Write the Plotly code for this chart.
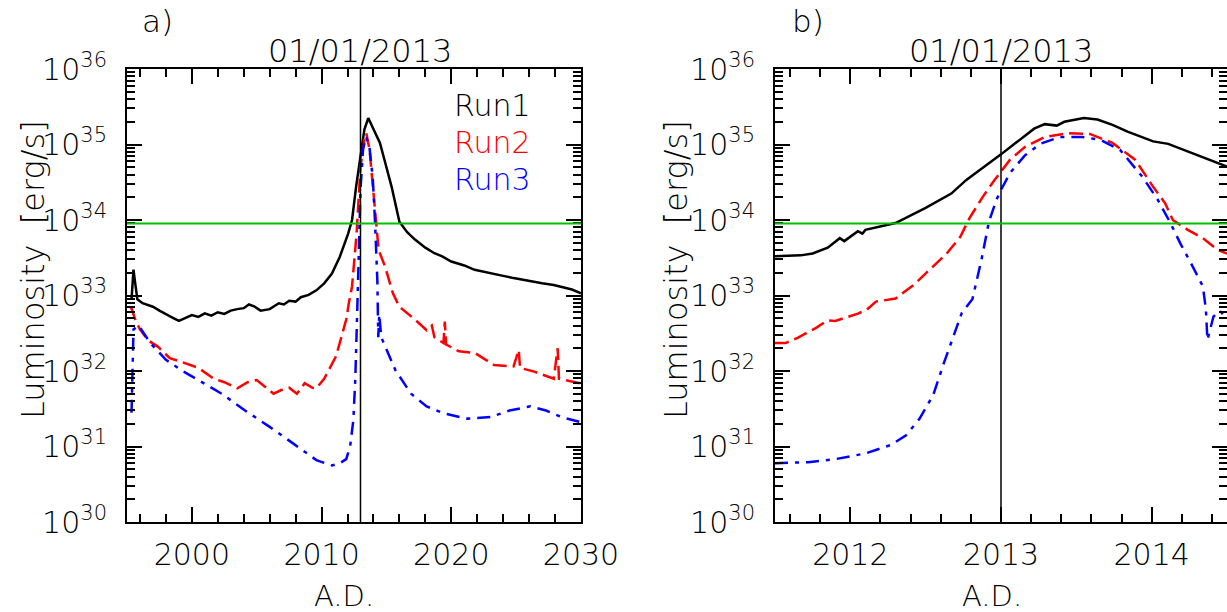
import plotly.graph_objects as go

# ---------------- data ----------------
event_year = 2013.0
event_label = "01/01/2013"
threshold_lum = 9.0e33

# Panel a) : 1995 - 2030
run1_a_year = [1995.35, 1995.5, 1995.6, 1995.8, 1996.2, 1996.6, 1997.0, 1997.5, 1998.0, 1998.5,
               1999.0, 1999.5, 2000.0, 2000.5, 2001.0, 2001.5, 2002.0, 2002.5, 2003.0, 2003.5,
               2004.0, 2004.4, 2004.8, 2005.3, 2006.0, 2006.7, 2007.1, 2007.5, 2008.0, 2008.4,
               2009.0, 2009.6, 2010.2, 2010.8, 2011.4, 2012.05, 2012.35, 2012.66, 2013.0, 2013.3,
               2013.6, 2014.0, 2014.5, 2015.0, 2015.4, 2016.0, 2016.6, 2017.2, 2018.0, 2018.7,
               2019.3, 2020.0, 2021.0, 2021.8, 2023.0, 2024.0, 2024.8, 2026.0, 2027.0, 2027.9,
               2028.7, 2029.3, 2030.0]
run1_a_lum = [8.9e32, 2.2e33, 1.6e33, 8.9e32, 7.9e32, 7.4e32, 7.1e32, 6.3e32, 5.6e32, 5.1e32,
              4.6e32, 5.0e32, 5.5e32, 5.2e32, 5.8e32, 5.4e32, 6.0e32, 5.7e32, 6.3e32, 6.6e32,
              6.8e32, 7.6e32, 7.2e32, 6.3e32, 6.6e32, 7.9e32, 7.6e32, 8.5e32, 8.3e32, 9.5e32,
              1.02e33, 1.17e33, 1.45e33, 1.95e33, 3.24e33, 6.6e33, 1.0e34, 2.75e34, 6.9e34, 1.58e35,
              2.24e35, 1.58e35, 1.05e35, 5.0e34, 2.75e34, 9.5e33, 6.9e33, 5.5e33, 4.3e33, 3.63e33,
              3.3e33, 2.82e33, 2.5e33, 2.19e33, 2.0e33, 1.82e33, 1.70e33, 1.55e33, 1.45e33, 1.38e33,
              1.26e33, 1.2e33, 1.07e33]

run2_a_year = [1995.3, 1995.6, 1996.0, 1996.6, 1997.4, 1998.3, 1999.2, 2000.5, 2001.7, 2002.5,
               2003.5, 2004.3, 2005.0, 2005.7, 2006.3, 2006.9, 2007.5, 2008.1, 2008.7, 2009.3,
               2009.6, 2010.2, 2010.7, 2011.1, 2011.4, 2011.9, 2012.1, 2012.35, 2012.7, 2013.0,
               2013.3, 2013.45, 2013.7, 2014.05, 2014.4, 2014.9, 2015.5, 2016.0, 2017.2, 2018.1,
               2018.5, 2018.7, 2019.4, 2019.5, 2019.6, 2020.6, 2021.8, 2023.3, 2024.8, 2025.2,
               2025.3, 2026.4, 2027.9, 2028.2, 2028.3, 2029.9, 2030.0]
run2_a_lum = [7.1e32, 5.0e32, 3.55e32, 2.57e32, 2.09e32, 1.48e32, 1.32e32, 1.10e32, 7.9e31, 7.1e31,
              5.9e31, 7.1e31, 7.6e31, 6.0e31, 5.0e31, 5.6e31, 6.0e31, 5.0e31, 6.9e31, 6.0e31,
              5.9e31, 7.9e31, 1.12e32, 1.55e32, 2.34e32, 4.8e32, 7.9e32, 1.32e33, 6.6e33, 5.0e34,
              1.15e35, 1.41e35, 8.5e34, 1.86e34, 4.0e33, 2.4e33, 1.07e33, 7.1e32, 4.8e32, 3.47e32,
              4.0e32, 2.8e32, 2.34e32, 4.5e32, 2.24e32, 1.82e32, 1.74e32, 1.2e32, 1.15e32, 1.9e32,
              1.1e32, 9.8e31, 7.9e31, 2.0e32, 7.9e31, 6.9e31, 6.9e31]

run3_a_year = [1995.35, 1995.5, 1995.9, 1996.8, 1998.0, 1999.2, 2000.5, 2002.3, 2004.1, 2006.0,
               2007.8, 2009.6, 2010.8, 2011.4, 2011.9, 2012.2, 2012.45, 2012.6, 2012.75, 2012.9,
               2013.0, 2013.2, 2013.45, 2013.7, 2013.95, 2014.12, 2014.3, 2014.37, 2014.45, 2014.6,
               2015.1, 2015.7, 2016.9, 2018.1, 2019.4, 2021.2, 2023.0, 2024.5, 2026.1, 2027.3,
               2028.5, 2030.0]
run3_a_lum = [2.8e31, 3.55e32, 4.0e32, 2.34e32, 1.41e32, 1.02e32, 7.6e31, 5.0e31, 3.0e31, 1.82e31,
              1.1e31, 6.6e30, 5.6e30, 6.0e30, 6.8e30, 1.0e31, 2.24e31, 7.9e31, 6.3e32, 7.9e33,
              2.5e34, 8.9e34, 1.26e35, 8.9e34, 3.55e34, 9.5e33, 1.58e33, 2.8e32, 5.6e32, 2.8e32,
              1.74e32, 1.02e32, 5.0e31, 3.4e31, 2.75e31, 2.34e31, 2.45e31, 3.0e31, 3.4e31, 3.0e31,
              2.45e31, 2.1e31]

# Panel b) : 2011.5 - 2014.5
run1_b_year = [2011.5, 2011.67, 2011.75, 2011.85, 2011.93, 2011.96, 2012.05, 2012.08, 2012.1, 2012.3,
               2012.5, 2012.67, 2012.77, 2012.92, 2013.0, 2013.09, 2013.22, 2013.29, 2013.37, 2013.42,
               2013.55, 2013.64, 2013.74, 2013.84, 2014.01, 2014.11, 2014.21, 2014.31, 2014.5]
run1_b_lum = [3.3e33, 3.4e33, 3.6e33, 4.3e33, 5.75e33, 5.25e33, 7.1e33, 6.6e33, 7.4e33, 9.1e33,
              1.45e34, 2.24e34, 3.4e34, 5.6e34, 7.4e34, 1.02e35, 1.62e35, 1.86e35, 1.78e35, 2.0e35,
              2.24e35, 2.14e35, 1.82e35, 1.48e35, 1.1e35, 1.02e35, 8.5e34, 7.2e34, 5.1e34]

run2_b_year = [2011.5, 2011.57, 2011.65, 2011.77, 2011.85, 2011.9, 2012.05, 2012.11, 2012.17, 2012.3,
               2012.42, 2012.55, 2012.64, 2012.73, 2012.79, 2012.88, 2012.95, 2013.06, 2013.16, 2013.29,
               2013.44, 2013.59, 2013.74, 2013.89, 2014.01, 2014.09, 2014.14, 2014.24, 2014.34, 2014.44,
               2014.5]
run2_b_lum = [2.34e32, 2.34e32, 2.75e32, 3.7e32, 4.7e32, 4.6e32, 5.75e32, 6.5e32, 8.3e32, 9.1e32,
              1.38e33, 2.4e33, 3.6e33, 6.0e33, 1.05e34, 2.04e34, 3.24e34, 6.3e34, 9.3e34, 1.26e35,
              1.41e35, 1.38e35, 1.05e35, 6.3e34, 2.75e34, 1.66e34, 1.0e34, 7.4e33, 5.75e33, 4.0e33,
              3.6e33]

run3_b_year = [2011.5, 2011.72, 2011.9, 2012.1, 2012.27, 2012.37, 2012.46, 2012.55, 2012.62, 2012.67,
               2012.74, 2012.81, 2012.87, 2012.92, 2012.97, 2013.0, 2013.06, 2013.16, 2013.26, 2013.39,
               2013.54, 2013.66, 2013.79, 2013.94, 2014.04, 2014.12, 2014.19, 2014.26, 2014.34, 2014.36,
               2014.37, 2014.41, 2014.45, 2014.5]
run3_b_lum = [6.0e30, 6.2e30, 6.8e30, 8.1e30, 1.05e31, 1.41e31, 2.34e31, 4.8e31, 1.26e32, 2.34e32,
              5.9e32, 8.9e32, 2.95e33, 9.5e33, 1.86e34, 2.5e34, 4.2e34, 7.2e34, 1.02e35, 1.26e35,
              1.26e35, 1.15e35, 8.5e34, 3.7e34, 1.86e34, 9.5e33, 4.9e33, 2.7e33, 1.32e33, 6.5e32,
              2.57e32, 5.25e32, 6.3e32, 5.0e32]

run_names = ["Run1", "Run2", "Run3"]
run_colors = ["#000000", "#ff0000", "#0000ff"]

y_exponents = [30, 31, 32, 33, 34, 35, 36]
x_title = "A.D."
y_title = "Luminosity  [erg/s]"
panel_labels = ["a)", "b)"]

# ---------------- figure ----------------
W, H = 1227, 612
FONT = "DejaVu Sans"
FW = 200
dashes = ["solid", "14px,6px", "13px,7px,4px,7px"]

fig = go.Figure()

panels = [
    ("x", "y", [run1_a_year, run2_a_year, run3_a_year], [run1_a_lum, run2_a_lum, run3_a_lum]),
    ("x2", "y2", [run1_b_year, run2_b_year, run3_b_year], [run1_b_lum, run2_b_lum, run3_b_lum]),
]
for xa, ya, xs, ys in panels:
    for i in range(3):
        fig.add_trace(go.Scatter(x=xs[i], y=ys[i], mode="lines", xaxis=xa, yaxis=ya,
                                 line=dict(color=run_colors[i], width=2.5, dash=dashes[i]),
                                 showlegend=False, name=run_names[i]))

ytickvals = [10.0 ** e for e in y_exponents]
yticktext = ["10<sup>%d</sup>" % e for e in y_exponents]
yminor = [k * 10.0 ** e for e in y_exponents[:-1] for k in range(2, 10)]

common_axis = dict(showline=True, linecolor="black", linewidth=2, mirror="allticks",
                   ticks="inside", ticklen=15, tickwidth=1.5, tickcolor="black",
                   showgrid=False, zeroline=False, automargin=False,
                   tickfont=dict(family=FONT, size=30, color="black", weight=FW))

yaxis_common = dict(common_axis, type="log", range=[30, 36], tickmode="array",
                    tickvals=ytickvals, ticktext=yticktext, ticklabelstandoff=12,
                    minor=dict(tickmode="array", tickvals=yminor, ticks="inside",
                               ticklen=8, tickwidth=1.5, tickcolor="black", showgrid=False))

ydom = [1 - 522 / H, 1 - 69 / H]
fig.update_layout(
    width=W, height=H, margin=dict(l=0, r=0, t=0, b=0, pad=0, autoexpand=False),
    paper_bgcolor="white", plot_bgcolor="white",
    font=dict(family=FONT, color="black", weight=FW),
    xaxis=dict(common_axis, domain=[127 / W, 581 / W], range=[1995, 2030], tickmode="linear",
               tick0=2000, dtick=10, ticklabelstandoff=5,
               minor=dict(tick0=1996, dtick=2, ticks="inside", ticklen=8, tickwidth=1.5,
                          tickcolor="black", showgrid=False), anchor="y"),
    yaxis=dict(yaxis_common, domain=ydom, anchor="x"),
    xaxis2=dict(common_axis, domain=[775 / W, 1227 / W], range=[2011.5, 2014.5], tickmode="linear",
                tick0=2012, dtick=1, ticklabelstandoff=5,
                minor=dict(tick0=2011.6, dtick=0.2, ticks="inside", ticklen=8, tickwidth=1.5,
                           tickcolor="black", showgrid=False), anchor="y2"),
    yaxis2=dict(yaxis_common, domain=ydom, anchor="x2"),
)

# event line and threshold line
for xa, ya in (("x", "y"), ("x2", "y2")):
    fig.add_shape(type="line", xref=xa, yref=ya + " domain", x0=event_year, x1=event_year,
                  y0=0, y1=1, line=dict(color="black", width=1.5))
    fig.add_shape(type="line", xref=xa + " domain", yref=ya, x0=0, x1=1,
                  y0=threshold_lum, y1=threshold_lum, line=dict(color="#00c000", width=2))
    fig.add_annotation(text=event_label, xref=xa, yref="paper", x=event_year, y=1 - 51 / H,
                       showarrow=False, xanchor="center", yanchor="middle",
                       font=dict(family=FONT, size=32, color="black", weight=FW))

# axis titles
for xc in (344, 992):
    fig.add_annotation(text=x_title, xref="paper", yref="paper", x=xc / W, y=1 - 596 / H,
                       xanchor="center", yanchor="middle",
                       showarrow=False, font=dict(family=FONT, size=29, weight=FW))
for xc in (33, 676):
    fig.add_annotation(text=y_title, xref="paper", yref="paper", x=xc / W, y=1 - 270 / H,
                       xanchor="center", yanchor="middle",
                       showarrow=False, textangle=-90, font=dict(family=FONT, size=32, weight=FW))

# panel labels
for lab, xc in zip(panel_labels, (157, 808)):
    fig.add_annotation(text=lab, xref="paper", yref="paper", x=xc / W, y=1 - 21 / H,
                       xanchor="center", yanchor="middle",
                       showarrow=False, font=dict(family=FONT, size=31, weight=FW))

# legend text
for i, (nm, c) in enumerate(zip(run_names, run_colors)):
    fig.add_annotation(text=nm, xref="paper", yref="paper", x=452 / W, y=1 - (105 + 37 * i) / H,
                       xanchor="left", yanchor="middle", showarrow=False,
                       font=dict(family=FONT, size=30, color=c, weight=FW))

fig.write_html("out.html", config={"displayModeBar": False},
               post_script="document.body.style.margin='0';document.body.style.overflow='hidden';")
